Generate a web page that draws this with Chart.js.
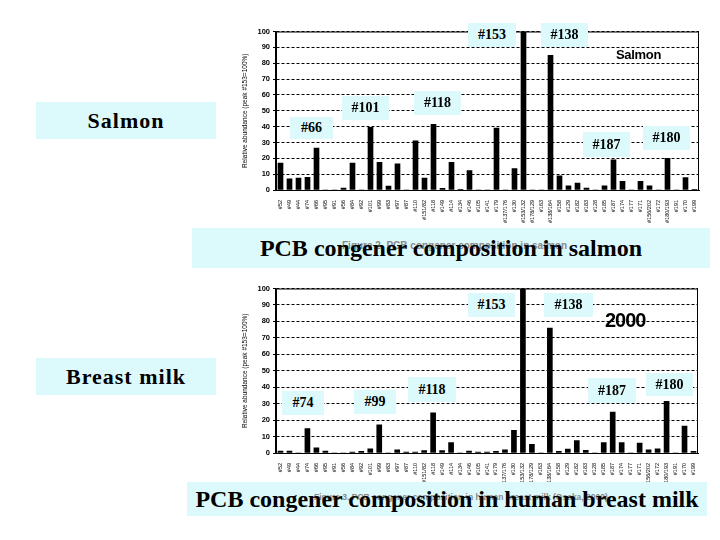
<!DOCTYPE html>
<html>
<head>
<meta charset="utf-8">
<script src="https://cdn.jsdelivr.net/npm/chart.js@4.4.0/dist/chart.umd.min.js"></script>
<style>
body { margin:0; background:#fff; width:720px; height:540px; position:relative; overflow:hidden; }
.wrap { position:absolute; left:238px; width:466px; }
.box { position:absolute; background:#dcfafc; display:flex; align-items:center; justify-content:center;
       font-family:'Liberation Serif','Times New Roman',serif; color:#000; white-space:nowrap; }
.call { font-size:14px; font-weight:bold; }
.side { font-size:22px; font-weight:bold; letter-spacing:1px; }
.title { font-size:24px; font-weight:bold; }
.title span { position:relative; z-index:1; }
.caption { position:absolute; font-family:'Liberation Sans',Arial,sans-serif; color:#888; white-space:nowrap; }
.tag { position:absolute; font-family:'Liberation Sans',Arial,sans-serif; font-weight:bold; color:#000; line-height:1; }
</style>
</head>
<body>

<div class="wrap" style="top:24px;height:200px;"><canvas id="salmonChart"></canvas></div>
<div class="wrap" style="top:281px;height:206px;"><canvas id="milkChart"></canvas></div>

<!-- left labels -->
<div class="box side" style="left:36px;top:102px;width:180px;height:37px;">Salmon</div>
<div class="box side" style="left:36px;top:358px;width:180px;height:37px;">Breast milk</div>

<!-- salmon callouts -->
<div class="box call" style="left:290px;top:117px;width:43px;height:22px;">#66</div>
<div class="box call" style="left:342px;top:96px;width:47px;height:24px;">#101</div>
<div class="box call" style="left:414px;top:91px;width:47px;height:24px;">#118</div>
<div class="box call" style="left:468px;top:23px;width:48px;height:24px;">#153</div>
<div class="box call" style="left:541px;top:23px;width:47px;height:24px;">#138</div>
<div class="box call" style="left:583px;top:132px;width:47px;height:25px;">#187</div>
<div class="box call" style="left:643px;top:126px;width:47px;height:24px;">#180</div>
<div class="tag" style="left:616px;top:48px;font-size:13px;letter-spacing:-0.3px;">Salmon</div>

<!-- breast milk callouts -->
<div class="box call" style="left:282px;top:391px;width:42px;height:24px;">#74</div>
<div class="box call" style="left:354px;top:390px;width:42px;height:24px;">#99</div>
<div class="box call" style="left:408px;top:377px;width:48px;height:25px;">#118</div>
<div class="box call" style="left:468px;top:293px;width:47px;height:24px;">#153</div>
<div class="box call" style="left:544px;top:293px;width:49px;height:24px;">#138</div>
<div class="box call" style="left:588px;top:378px;width:48px;height:25px;">#187</div>
<div class="box call" style="left:646px;top:373px;width:47px;height:23px;">#180</div>
<div class="tag" style="left:605px;top:310px;font-size:20px;letter-spacing:-1px;">2000</div>

<!-- titles -->
<div class="box title" style="left:192px;top:228px;width:518px;height:40px;">
  <div class="caption" style="left:150px;top:12px;font-size:10px;">Figure 2. PCB congener composition in salmon</div>
  <span>PCB congener composition in salmon</span>
</div>
<div class="box title" style="left:187px;top:482px;width:520px;height:34px;">
  <div class="caption" style="left:127px;top:10px;font-size:8.5px;">Figure 3. PCB congener composition in human breast milk (Osaka, 2000)</div>
  <span>PCB congener composition in human breast milk</span>
</div>

<script>
// congener order along the x axis
const congeners = ['#52', '#49', '#44', '#74', '#66', '#95', '#91', '#56', '#84', '#92',
    '#101', '#99', '#83', '#97', '#87', '#110', '#151/82', '#118', '#149', '#114',
    '#134', '#146', '#105', '#141', '#179', '#137/176', '#130', '#153/132', '#178/129', '#163',
    '#138/164', '#158', '#129', '#182', '#183', '#128', '#185', '#187', '#174', '#177',
    '#171', '#156/202', '#172', '#180/193', '#191', '#170', '#199'];

// relative abundance, peak #153 = 100%
const salmonValues = [17, 7, 7.5, 8, 26.5, 0, 0, 1.2, 17, 0,
    39.5, 17.5, 2.5, 16.5, 0, 31, 7.5, 41.5, 1, 17.5,
    0.4, 12.3, 0, 0, 39, 0, 13.5, 100, 0, 0,
    85, 9, 2.7, 4.3, 1.2, 0, 2.7, 19, 5.5, 0,
    5.5, 2.6, 0, 20, 0, 7.8, 0.5];

const milkValues = [1.2, 1.2, 0, 14.8, 3.2, 1.2, 0, 0, 0.6, 1,
    2.6, 17.2, 0, 2, 0.5, 0.5, 1.5, 24.4, 1.5, 6.4,
    0, 1.2, 0.6, 0.5, 1, 2, 13.8, 100, 5.3, 0,
    76, 1, 2.4, 7.5, 1.6, 0, 6.4, 24.8, 6.4, 0,
    6, 2, 2.6, 31.4, 0, 16.4, 1];

const axisTitle = 'Relative abundance (peak #153=100%)';

// solid box round the plot area
const framePlugin = {
    id: 'frame',
    afterDraw(chart) {
        const { ctx, chartArea: a } = chart;
        ctx.save();
        ctx.strokeStyle = '#000';
        ctx.lineWidth = 1;
        ctx.strokeRect(a.left + 0.5, a.top + 0.5, a.right - a.left - 1, a.bottom - a.top);
        ctx.restore();
    }
};

function makeChart(id, values, padRight) {
    const ctx = document.getElementById(id).getContext('2d');
    return new Chart(ctx, {
        type: 'bar',
        data: {
            labels: congeners,
            datasets: [{
                data: values,
                backgroundColor: '#000',
                borderWidth: 0,
                barThickness: 5
            }]
        },
        options: {
            responsive: true,
            maintainAspectRatio: false,
            animation: false,
            layout: { padding: { top: 7, right: padRight, left: 0, bottom: 0 } },
            plugins: { legend: { display: false }, tooltip: { enabled: false } },
            scales: {
                x: {
                    grid: { display: false },
                    border: { color: '#000', width: 1 },
                    ticks: {
                        color: '#000',
                        autoSkip: false,
                        maxRotation: 90,
                        minRotation: 90,
                        padding: 2,
                        font: { family: 'Liberation Sans', size: 5.5 }
                    },
                    afterFit(axis) { axis.height = 34; }
                },
                y: {
                    min: 0,
                    max: 100,
                    grid: { color: '#000', lineWidth: 1, tickLength: 3, tickColor: '#000' },
                    border: { color: '#000', width: 1.5, dash: [3, 2] },
                    ticks: {
                        stepSize: 10,
                        color: '#000',
                        padding: 3,
                        font: { family: 'Liberation Sans', size: 7.5, weight: 'bold' }
                    },
                    title: {
                        display: true,
                        text: axisTitle,
                        color: '#000',
                        padding: { top: 3, bottom: 0 },
                        font: { family: 'Liberation Sans', size: 6.5 }
                    },
                    afterFit(axis) { axis.width = 38; }
                }
            }
        },
        plugins: [framePlugin]
    });
}

makeChart('salmonChart', salmonValues, 5);
makeChart('milkChart', milkValues, 6);
</script>
</body>
</html>
